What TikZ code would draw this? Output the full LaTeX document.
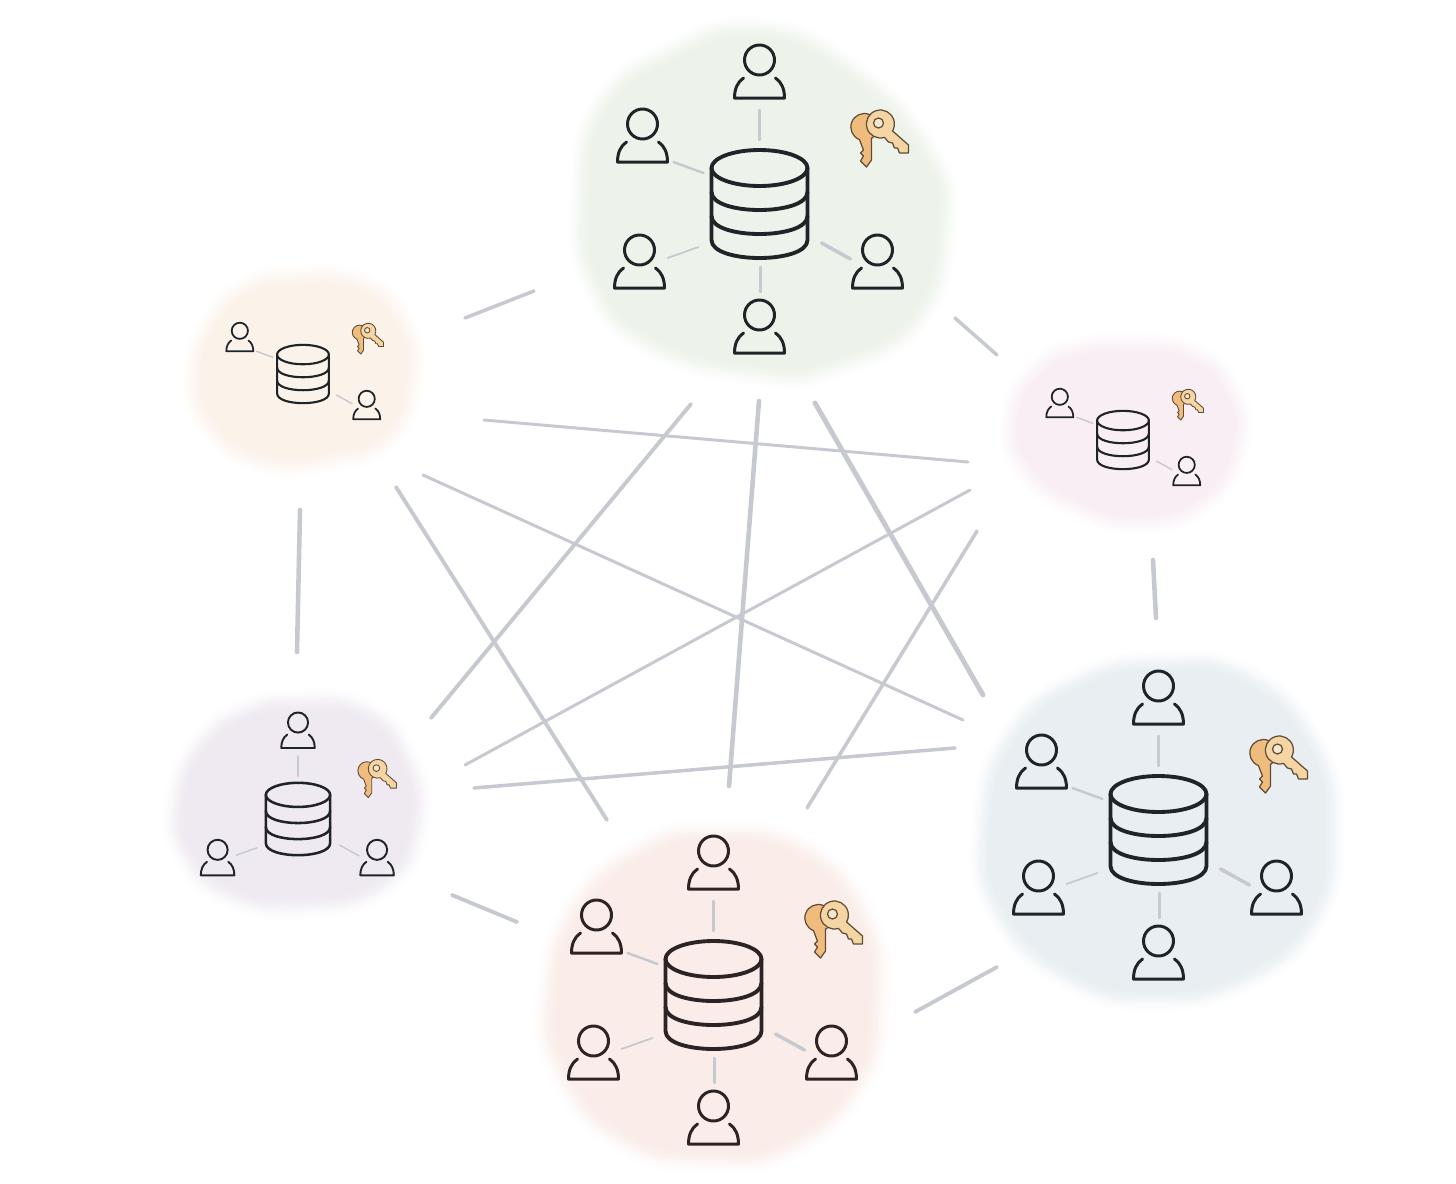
\documentclass[tikz,border=0pt]{standalone}
\usepackage{tikz}
\usetikzlibrary{calc}

\definecolor{inkline}{HTML}{1F2428}
\definecolor{inkred}{HTML}{2C2325}
\definecolor{linkgray}{HTML}{C6C9CF}
\definecolor{keyback}{HTML}{EFBC7E}
\definecolor{keyfront}{HTML}{F6D5A4}
\definecolor{keyedge}{HTML}{5E4C34}
\definecolor{keyhole}{HTML}{F5E6D0}
\definecolor{greenwash}{HTML}{EDF3EA}
\definecolor{peachwash}{HTML}{FBF2EA}
\definecolor{pinkwash}{HTML}{F8EEF4}
\definecolor{purplewash}{HTML}{EFEAF1}
\definecolor{bluewash}{HTML}{E8EEF1}
\definecolor{redwash}{HTML}{FAEDE9}

\tikzset{
    icon/.style={draw=inkline, line join=round, line cap=round},
    dbline/.style={icon},
    spoke/.style={draw=linkgray, line cap=round},
    heavyspoke/.style={},
    lightspoke/.style={},
    link/.style={draw=linkgray, line cap=round},
    keypart/.style={draw=keyedge, line join=round},
    bigsite/.style={scale=1, sitepic/.style={scale=1}, icon/.append style={line width=0.85pt}, dbline/.append style={line width=1.1pt},
        spoke/.append style={line width=0.7pt}, heavyspoke/.append style={line width=1pt}, lightspoke/.append style={line width=0.5pt},
        keypart/.append style={line width=0.35pt}},
    midsite/.style={scale=0.67, sitepic/.style={scale=0.67}, icon/.append style={line width=0.55pt}, dbline/.append style={line width=0.72pt},
        spoke/.append style={line width=0.4pt}, keypart/.append style={line width=0.25pt}},
    smallsite/.style={scale=0.54, sitepic/.style={scale=0.54}, icon/.append style={line width=0.5pt}, dbline/.append style={line width=0.6pt},
        spoke/.append style={line width=0.4pt}, keypart/.append style={line width=0.25pt}},
    pics/person/.style={code={
        \draw[icon] (0,0) circle (15);
        \draw[icon] (-16,18) .. controls (-22,22) and (-25,29) .. (-25,38) -- (25,38)
            .. controls (25,29) and (22,22) .. (16,18);
    }},
    pics/dbstack/.style={code={
        \draw[dbline] (0,-36) ellipse (48 and 18);
        \draw[dbline] (-48,-36) -- (-48,36) .. controls (-48,60) and (48,60) .. (48,36) -- (48,-36);
        \foreach \y in {-12,12}
            \draw[dbline] (-48,\y) .. controls (-48,\y+24) and (48,\y+24) .. (48,\y);
    }},
    pics/keypair/.style={code={
        \filldraw[keypart, fill=keyback] (-9,14) -- (-9,36) -- (-14,43) -- (-20,37) -- (-17,32) -- (-20,29)
            -- (-17,26) -- (-19,21) -- (-21,15.6) arc[start angle=111, end angle=417.5, radius=13.5] -- cycle;
        \filldraw[keypart, fill=keyfront] (12.1,7) -- (28,21) -- (28,29) -- (19,29) -- (17,24) -- (14,24)
            -- (12,19) -- (8,18) -- (4,13.4) arc[start angle=73, end angle=390, radius=14] -- cycle;
        \filldraw[keypart, fill=keyhole] (-2,-1) circle (5);
    }},
}

% person with its spoke, offsets from the database centre
\newcommand{\member}[4]{
    \coordinate (spokea) at (#2);
    \coordinate (spokeb) at (#3);
    \draw[spoke, #4] (spokea) -- (spokeb);
    \pic[sitepic] at (#1) {person};
}
\newcommand{\memtop}{\member{0,-144}{0,-94}{0,-64}{}}
\newcommand{\memul}{\member{-117,-80}{-86,-42}{-56,-31}{}}
\newcommand{\memll}{\member{-120,46}{-92,54}{-61,43}{lightspoke}}
\newcommand{\memlr}{\member{118,46}{62,39}{91,55}{heavyspoke}}
\newcommand{\membot}{\member{0,111}{1,63}{1,88}{}}

% soft edged wash: colour, centre, inset, outline
\newcommand{\softblob}[4]{
    \foreach \k in {0,...,19} {
        \pgfmathsetmacro{\t}{(\k+1)/20}
        \pgfmathsetmacro{\w}{14*(19-\k)/19}
        \pgfmathsetmacro{\p}{100*\t*\t*(3-2*\t)}
        \filldraw[color=#1!\p!white, line width=\w pt, line join=round, shift={(#2)}, scale=#3]
            plot[smooth cycle, tension=0.85] coordinates {#4};
    }
}

\begin{document}
\begin{tikzpicture}[x=0.01cm, y=-0.01cm]
    \useasboundingbox (0,0) rectangle (1456,1184);

    % Washes
    \softblob{greenwash}{760,200}{0.92}{(0,-175) (97,-130) (175,-45) (190,27) (163,122) (75,172) (0,178) (-110,150) (-172,87) (-183,-7) (-163,-97) (-93,-150)}
    \softblob{peachwash}{302,370}{0.87}{(-10,-95) (60,-90) (105,-50) (115,10) (90,70) (30,92) (-40,95) (-95,60) (-112,5) (-90,-55) (-50,-88)}
    \softblob{pinkwash}{1125,432}{0.87}{(0,-88) (70,-80) (112,-40) (118,15) (85,70) (20,92) (-50,75) (-105,35) (-118,-15) (-90,-65) (-45,-85)}
    \softblob{purplewash}{297,803}{0.88}{(0,-103) (70,-95) (115,-45) (125,25) (90,85) (10,105) (-70,95) (-115,55) (-125,0) (-100,-60) (-50,-95)}
    \softblob{bluewash}{1158,832}{0.92}{(0,-172) (90,-160) (160,-90) (178,0) (160,90) (90,150) (0,170) (-90,150) (-165,80) (-178,-10) (-150,-100) (-80,-155)}
    \softblob{redwash}{713,995}{0.92}{(0,-165) (90,-150) (155,-80) (168,10) (150,90) (80,155) (0,168) (-90,150) (-155,80) (-168,0) (-140,-90) (-70,-150)}

    % Link ends
    \foreach \name/\x/\y in {
        pg/465/318, gp/534/291, gk/955/318, kg/997/355,
        po/300/510, op/297/652, kb/1153/560, bk/1156/618,
        or/452/895, ro/517/922, rb/915/1012, br/997/967,
        pk/484/420, kp/968/462, pb/423/475, bp/963/720,
        pr/396/487, rp/607/820, go/691/404, og/431/718,
        gr/759/401, rg/729/786, gb/815/403, bg/983/695,
        ko/970/490, ok/465/765, kr/977/531, rk/807/808,
        bo/955/748, ob/474/788} {
        \coordinate (\name) at (\x,\y);
    }

    % Links between sites
    \foreach \a/\b/\w in {
        pg/gp/1.0, gk/kg/1.0, po/op/1.3, kb/bk/1.3, or/ro/1.1, rb/br/1.1,
        pk/kp/0.85, pb/bp/0.85, pr/rp/1.1, go/og/1.1, gr/rg/1.3, gb/bg/1.4,
        ko/ok/0.85, kr/rk/1.0, bo/ob/1.0} {
        \draw[link, line width=\w pt] (\a) -- (\b);
    }

    % Green site
    \begin{scope}[shift={(759.5,204)}, bigsite]
        \pic[sitepic] {dbstack};
        \pic[sitepic] at (121,-80) {keypair};
        \memtop \memul \memll \memlr \membot
    \end{scope}

    % Blue site
    \begin{scope}[shift={(1158.5,830)}, bigsite]
        \pic[sitepic] {dbstack};
        \pic[sitepic] at (121,-80) {keypair};
        \memtop \memul \memll \memlr \membot
    \end{scope}

    % Red site
    \begin{scope}[shift={(713.5,995)}, bigsite, icon/.append style={draw=inkred}]
        \pic[sitepic] {dbstack};
        \pic[sitepic] at (121,-80) {keypair};
        \memtop \memul \memll \memlr \membot
    \end{scope}

    % Peach site
    \begin{scope}[shift={(303,374)}, smallsite]
        \pic[sitepic] {dbstack};
        \pic[sitepic] at (121,-80) {keypair};
        \memul \memlr
    \end{scope}

    % Pink site
    \begin{scope}[shift={(1123,440)}, smallsite]
        \pic[sitepic] {dbstack};
        \pic[sitepic] at (121,-80) {keypair};
        \memul \memlr
    \end{scope}

    % Purple site
    \begin{scope}[shift={(298,819)}, midsite]
        \pic[sitepic] {dbstack};
        \pic[sitepic] at (119,-75) {keypair};
        \memtop \memll \memlr
    \end{scope}
\end{tikzpicture}
\end{document}
